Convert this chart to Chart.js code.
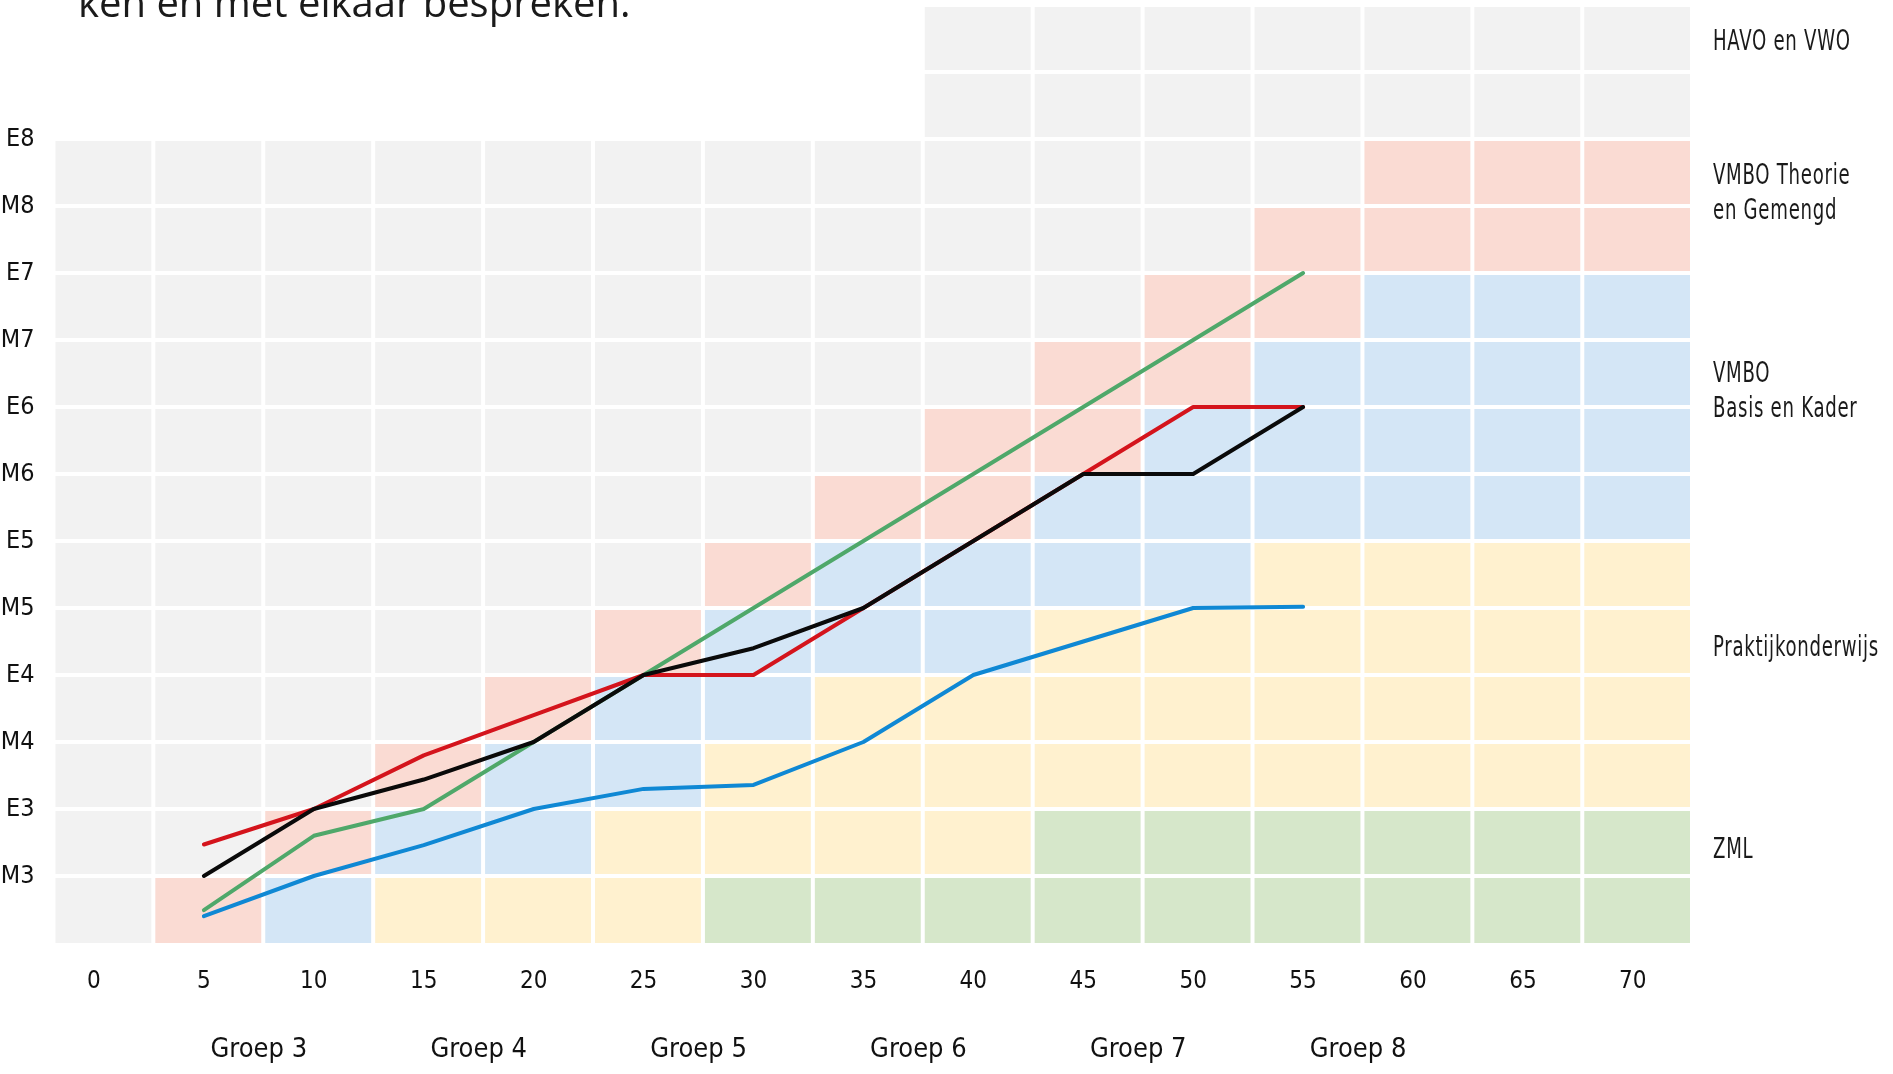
<!DOCTYPE html>
<html>
<head>
<meta charset="utf-8">
<script src="https://cdn.jsdelivr.net/npm/chart.js@4.4.1/dist/chart.umd.min.js"></script>
<style>
  html, body { margin: 0; padding: 0; background: #ffffff; overflow: hidden; }
  #wrap { position: relative; width: 1893px; height: 1074px; overflow: hidden; }
  #c { position: absolute; left: 0; top: 0; }
  .title { position: absolute; left: 78px; top: -18px; font-family: "Open Sans", "Noto Sans", sans-serif;
           font-size: 40px; line-height: 40px; color: #1a1a1a; white-space: nowrap; }
  .band { position: absolute; left: 1713px; font-family: "Liberation Sans Narrow", "DejaVu Sans Condensed", "Liberation Sans", sans-serif;
          font-size: 28px; line-height: 35px; color: #1a1a1a; white-space: nowrap; letter-spacing: 1px;
          transform-origin: 0 0; transform: scaleX(0.72); }
</style>
</head>
<body>
<div id="wrap">
  <canvas id="c" width="1893" height="1074"></canvas>
  <div class="title" id="title"></div>
</div>
<script>
// ---- data ----
const weeks = [5, 10, 15, 20, 25, 30, 35, 40, 45, 50, 55];
const blackSeries = [1.0, 2.0, 2.44, 3.0, 4.0, 4.4, 5.0, 6.0, 7.0, 7.0, 8.0];
const redSeries   = [1.47, 2.0, 2.8, 3.4, 4.0, 4.0, 5.0, 6.0, 7.0, 8.0, 8.0];
const greenSeries = [0.49, 1.6, 2.0, 3.0, 4.0, 5.0, 6.0, 7.0, 8.0, 9.0, 10.0];
const blueSeries  = [0.4, 1.0, 1.46, 2.0, 2.3, 2.36, 3.0, 4.0, 4.5, 5.0, 5.02];

const xTickValues = [0, 5, 10, 15, 20, 25, 30, 35, 40, 45, 50, 55, 60, 65, 70];
const groupLabels = ['Groep 3', 'Groep 4', 'Groep 5', 'Groep 6', 'Groep 7', 'Groep 8'];
const groupCenters = [7.5, 17.5, 27.5, 37.5, 47.5, 57.5];
const levelLabels = ['M3', 'E3', 'M4', 'E4', 'M5', 'E5', 'M6', 'E6', 'M7', 'E7', 'M8', 'E8'];
const levelValues = [1, 2, 3, 4, 5, 6, 7, 8, 9, 10, 11, 12];

// background cells: one string per column, one letter per row from the bottom up
// g = HAVO en VWO, p = VMBO Theorie en Gemengd, b = VMBO Basis en Kader, y = Praktijkonderwijs, z = ZML, . = empty
const cellColumns = [0, 5, 10, 15, 20, 25, 30, 35, 40, 45, 50, 55, 60, 65, 70];
const cellBands = [
  'gggggggggggg..',
  'pggggggggggg..',
  'bpgggggggggg..',
  'ybpggggggggg..',
  'ybbpgggggggg..',
  'yybbpggggggg..',
  'zyybbpgggggg..',
  'zyyybbpggggg..',
  'zyyybbppgggggg',
  'zzyyybbppggggg',
  'zzyyybbbppgggg',
  'zzyyyybbbppggg',
  'zzyyyybbbbppgg',
  'zzyyyybbbbppgg',
  'zzyyyybbbbppgg'
];
const bandLabels = [['HAVO en VWO'], ['VMBO Theorie', 'en Gemengd'], ['VMBO', 'Basis en Kader'], ['Praktijkonderwijs'], ['ZML']];
const titleText = 'ken en met elkaar bespreken.';

// ---- styles ----
const bandColors = { g: '#f2f2f2', p: '#fadbd3', b: '#d4e6f6', y: '#fff1cf', z: '#d6e7ca' };
const bandLabelTops = [23, 157, 355, 629, 831];
const narrow = '"Liberation Sans Narrow", "DejaVu Sans Condensed", "Liberation Sans", sans-serif';

document.getElementById('title').textContent = titleText;
bandLabels.forEach((lines, i) => {
  const d = document.createElement('div');
  d.className = 'band';
  d.style.top = bandLabelTops[i] + 'px';
  lines.forEach((t, j) => { if (j) d.appendChild(document.createElement('br')); d.appendChild(document.createTextNode(t)); });
  document.getElementById('wrap').appendChild(d);
});

const cellPlugin = {
  id: 'cells',
  beforeDatasetsDraw(chart) {
    const { ctx, chartArea: a, scales } = chart;
    const xs = scales.x, ys = scales.y;
    const colShift = 0.2, half = 2.5, gap = 2;
    ctx.save();
    ctx.beginPath();
    ctx.rect(a.left, a.top, a.right - a.left, a.bottom - a.top);
    ctx.clip();
    cellColumns.forEach((cx, i) => {
      const code = cellBands[i];
      const x0 = xs.getPixelForValue(cx - half + colShift) + gap;
      const x1 = xs.getPixelForValue(cx + half + colShift) - gap;
      for (let r = 0; r < code.length; r++) {
        const col = bandColors[code[r]];
        if (!col) continue;
        const yb = ys.getPixelForValue(r) - (r === 0 ? 0 : gap);
        const yt = ys.getPixelForValue(r + 1) + gap;
        ctx.fillStyle = col;
        ctx.fillRect(x0, yt, x1 - x0, yb - yt);
      }
    });
    ctx.restore();
  }
};

function series(vals, color, order) {
  return {
    data: weeks.map((w, i) => ({ x: w, y: vals[i] })),
    borderColor: color, backgroundColor: color, borderWidth: 4,
    pointRadius: 0, tension: 0, borderJoinStyle: 'round', borderCapStyle: 'round',
    fill: false, order: order
  };
}

function noPadX(s, h) { s.height = h; s.paddingLeft = 0; s.paddingRight = 0; s.paddingTop = 0; s.paddingBottom = 0; }

new Chart(document.getElementById('c'), {
  type: 'line',
  data: {
    datasets: [
      series(blackSeries, '#0a0a0a', 1),
      series(redSeries, '#d4141c', 2),
      series(greenSeries, '#4fa86a', 3),
      series(blueSeries, '#0f88d4', 4)
    ]
  },
  options: {
    responsive: false,
    animation: false,
    events: [],
    layout: { padding: { left: 0, right: 203, top: 5, bottom: 0 } },
    plugins: { legend: { display: false }, tooltip: { enabled: false } },
    scales: {
      x: {
        type: 'linear', position: 'bottom', min: -1.75, max: 72.6, weight: 0,
        afterBuildTicks: s => { s.ticks = xTickValues.map(v => ({ value: v })); },
        afterFit: s => noPadX(s, 75),
        grid: { display: false, drawTicks: false }, border: { display: false },
        ticks: { autoSkip: false, maxRotation: 0, padding: 24, color: '#111',
                 font: { family: narrow, size: 24 }, callback: v => String(v) }
      },
      x2: {
        type: 'linear', position: 'bottom', min: -1.75, max: 72.6, weight: 1,
        afterBuildTicks: s => { s.ticks = groupCenters.map(v => ({ value: v })); },
        afterFit: s => noPadX(s, 56),
        grid: { display: false, drawTicks: false }, border: { display: false },
        ticks: { autoSkip: false, maxRotation: 0, padding: 16, color: '#111',
                 font: { family: narrow, size: 27 }, callback: (v, i) => groupLabels[i] }
      },
      y: {
        type: 'linear', position: 'left', min: 0, max: 14,
        afterBuildTicks: s => { s.ticks = levelValues.map(v => ({ value: v })); },
        afterFit: s => { s.width = 55.5; s.paddingTop = 0; s.paddingBottom = 0; s.paddingLeft = 0; s.paddingRight = 0; },
        grid: { display: false, drawTicks: false }, border: { display: false },
        ticks: { autoSkip: false, padding: 21, color: '#111',
                 font: { family: narrow, size: 25 }, callback: (v, i) => levelLabels[i] }
      }
    }
  },
  plugins: [cellPlugin]
});
</script>
</body>
</html>
